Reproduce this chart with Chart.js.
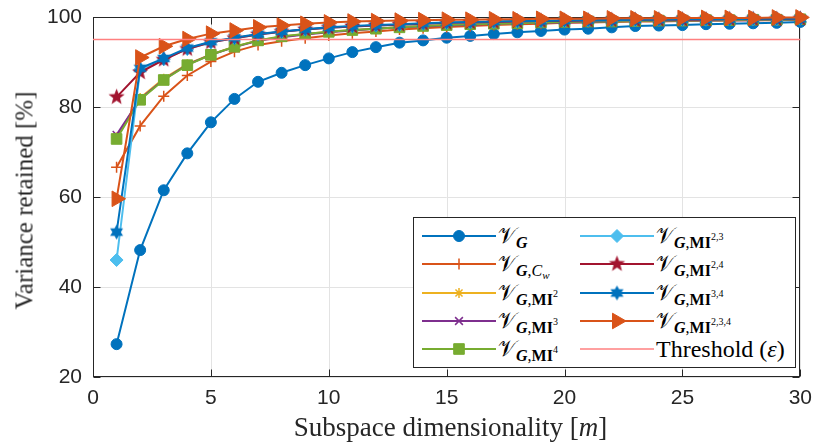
<!DOCTYPE html>
<html>
<head>
<meta charset="utf-8">
<script src="https://cdn.jsdelivr.net/npm/chart.js@4.4.1/dist/chart.umd.min.js"></script>
<style>
  body { margin: 0; background: #fff; }
  #wrap { position: relative; width: 821px; height: 442px; overflow: hidden; }
  #legend { position: absolute; left: 413px; top: 217px; width: 381px; height: 149px;
            border: 1px solid #262626; background: #fff; }
  .item { position: absolute; height: 20px; width: 220px; }
  .item canvas { position: absolute; left: 0; top: 0; }
  .lab { position: absolute; left: 76px; top: 0; white-space: nowrap; color: #000;
         font-family: "Liberation Serif", "DejaVu Serif", serif; font-size: 22px; line-height: 20px; }
  .cal { font-size: 22px; }
  .sb { font-size: 16px; position: relative; top: 5px; }
  .sp { font-size: 10px; position: relative; top: -8px; }
  .cw { font-size: 11px; position: relative; top: 3px; }
  .th { font-size: 24px; }
  .axt { position: absolute; white-space: nowrap; text-align: center; color: #262626;
         font-family: "Liberation Serif", "Times New Roman", serif; }
  #xtitle { left: 150px; width: 601px; top: 414px; font-size: 27px; line-height: 27px; }
  #ytitle { left: -126px; width: 300px; top: 188px; font-size: 25px; line-height: 25px;
            transform: rotate(-90deg); }
</style>
</head>
<body>
<div id="wrap">
  <canvas id="chart" width="821" height="442"></canvas>
  <div id="xtitle" class="axt">Subspace dimensionality [<i>m</i>]</div>
  <div id="ytitle" class="axt">Variance retained [%]</div>
  <div id="legend"></div>
</div>
<script>
// subspace dimension m
var dims = [1, 2, 3, 4, 5, 6, 7, 8, 9, 10, 11, 12, 13, 14, 15,
            16, 17, 18, 19, 20, 21, 22, 23, 24, 25, 26, 27, 28, 29, 30];

// variance retained [%] per variant
var vG = [27.3, 48.2, 61.5, 69.7, 76.6, 81.8, 85.6, 87.6, 89.3, 90.8, 92.2, 93.3, 94.3, 94.8, 95.4,
          95.8, 96.2, 96.6, 96.9, 97.2, 97.4, 97.7, 98.0, 98.1, 98.2, 98.4, 98.5, 98.6, 98.7, 98.9];
var vCw = [66.6, 75.8, 82.4, 87.0, 90.1, 92.3, 93.8, 94.6, 95.3, 95.9, 96.4, 96.8, 97.2, 97.5, 97.8,
           98.0, 98.2, 98.4, 98.5, 98.7, 98.8, 98.9, 99.0, 99.0, 99.1, 99.2, 99.2, 99.3, 99.3, 99.4];
var vMI2 = [73.3, 82.0, 86.3, 89.5, 91.7, 93.4, 94.8, 95.6, 96.2, 96.7, 97.1, 97.4, 97.7, 98.0, 98.2,
            98.4, 98.5, 98.6, 98.8, 98.9, 99.0, 99.0, 99.1, 99.2, 99.2, 99.3, 99.3, 99.4, 99.4, 99.5];
var vMI3 = [73.8, 81.8, 86.1, 89.4, 91.6, 93.3, 94.7, 95.5, 96.1, 96.6, 97.0, 97.4, 97.7, 97.9, 98.1,
            98.3, 98.5, 98.6, 98.7, 98.8, 98.9, 99.0, 99.1, 99.1, 99.2, 99.2, 99.3, 99.3, 99.4, 99.4];
var vMI4 = [72.9, 81.6, 86.0, 89.3, 91.6, 93.4, 94.8, 95.7, 96.2, 96.7, 97.1, 97.4, 97.7, 98.0, 98.2,
            98.4, 98.5, 98.6, 98.8, 98.9, 99.0, 99.0, 99.1, 99.2, 99.2, 99.3, 99.3, 99.4, 99.4, 99.5];
var vMI23 = [46.0, 88.3, 90.6, 92.9, 94.4, 95.3, 96.1, 96.7, 97.2, 97.6, 97.9, 98.1, 98.3, 98.5, 98.7,
             98.8, 98.9, 99.0, 99.1, 99.1, 99.2, 99.3, 99.3, 99.4, 99.4, 99.4, 99.5, 99.5, 99.5, 99.6];
var vMI24 = [82.2, 87.7, 90.5, 92.9, 94.4, 95.3, 96.1, 96.7, 97.2, 97.6, 97.9, 98.1, 98.3, 98.5, 98.7,
             98.8, 98.9, 99.0, 99.1, 99.1, 99.2, 99.3, 99.3, 99.4, 99.4, 99.4, 99.5, 99.5, 99.5, 99.6];
var vMI34 = [52.2, 88.6, 90.8, 93.1, 94.5, 95.4, 96.2, 96.8, 97.3, 97.7, 98.0, 98.2, 98.4, 98.6, 98.8,
             98.9, 99.0, 99.1, 99.1, 99.2, 99.3, 99.3, 99.4, 99.4, 99.5, 99.5, 99.5, 99.6, 99.6, 99.6];
var vMI234 = [59.6, 91.0, 93.5, 95.1, 96.3, 97.0, 97.7, 98.1, 98.5, 98.8, 99.0, 99.1, 99.2, 99.3, 99.4,
              99.4, 99.5, 99.5, 99.6, 99.6, 99.6, 99.7, 99.7, 99.7, 99.8, 99.8, 99.8, 99.8, 99.9, 99.9];

var threshold = 95;
var xTicks = [0, 30, 5];     // min, max, step
var yTicks = [20, 100, 20];

var names = ['V_G', 'V_G,Cw', 'V_G,MI2', 'V_G,MI3', 'V_G,MI4',
             'V_G,MI23', 'V_G,MI24', 'V_G,MI34', 'V_G,MI234', 'Threshold'];

var V = '<span class="cal">\u{1D4B1}</span>';
var G = '<b><i>G</i></b>';
function mi(p) { return '<span class="sb">' + G + ',<b>MI</b><span class="sp">' + p + '</span></span>'; }
var legendHtml = [
  V + '<span class="sb">' + G + '</span>',
  V + '<span class="sb">' + G + ',<i>C</i><i class="cw">w</i></span>',
  V + mi('2'),
  V + mi('3'),
  V + mi('4'),
  V + mi('2,3'),
  V + mi('2,4'),
  V + mi('3,4'),
  V + mi('2,3,4'),
  '<span class="th">Threshold (<i>\u03B5</i>)</span>'
];

// filled star markers (pentagram / hexagram) as small canvases
function starMarker(n, outer, inner, color) {
  var s = Math.ceil(outer * 2 + 2);
  var c = document.createElement('canvas');
  c.width = s; c.height = s;
  var g = c.getContext('2d');
  g.fillStyle = color;
  g.beginPath();
  for (var i = 0; i < n * 2; i++) {
    var r = i % 2 === 0 ? outer : inner;
    var a = -Math.PI / 2 + i * Math.PI / n;
    var px = s / 2 + r * Math.cos(a), py = s / 2 + r * Math.sin(a);
    if (i === 0) g.moveTo(px, py); else g.lineTo(px, py);
  }
  g.closePath();
  g.fill();
  return c;
}

var blue = '#0072BD', orange = '#D95319', yellow = '#EDB120', purple = '#7E2F8E',
    green = '#77AC30', cyan = '#4DBEEE', maroon = '#A2142F';

function series(values, color, style, radius, bw, rot) {
  return {
    data: dims.map(function (m, i) { return { x: m, y: values[i] }; }),
    borderColor: color,
    backgroundColor: color,
    pointBackgroundColor: color,
    pointBorderColor: color,
    borderWidth: 2,
    pointStyle: style,
    pointRadius: radius,
    pointBorderWidth: bw,
    pointRotation: rot || 0,
    clip: false
  };
}

var datasets = [
  series(vG, blue, 'circle', 5.5, 1),
  series(vCw, orange, 'cross', 5.5, 1.5),
  series(vMI2, yellow, 'star', 5, 1.5),
  series(vMI3, purple, 'crossRot', 5.5, 1.5),
  series(vMI4, green, 'rect', 7.5, 1),
  series(vMI23, cyan, 'rectRot', 6.5, 1),
  series(vMI24, maroon, starMarker(5, 8.5, 3.6, maroon), 8, 0),
  series(vMI34, blue, starMarker(6, 7.5, 4.2, blue), 7, 0),
  series(vMI234, orange, 'triangle', 9, 1, 90),
  {
    data: [{ x: xTicks[0], y: threshold }, { x: xTicks[1], y: threshold }],
    borderColor: '#ff8080',
    borderWidth: 1.5,
    pointRadius: 0,
    clip: false
  }
];
datasets.forEach(function (d, i) { d.label = names[i]; d.order = -i; });

var axisColor = '#262626';
var gridColor = '#e3e3e3';

// MATLAB style grid and box with inward ticks, placed from the scales
var boxAxes = {
  id: 'boxAxes',
  beforeDatasetsDraw: function (chart) {
    var ctx = chart.ctx, x = chart.scales.x, y = chart.scales.y;
    var l = Math.round(x.getPixelForValue(xTicks[0])) + 0.5,
        r = Math.round(x.getPixelForValue(xTicks[1])) - 0.5,
        t = Math.round(y.getPixelForValue(yTicks[1])) + 0.5,
        b = Math.round(y.getPixelForValue(yTicks[0])) - 0.5;
    ctx.save();
    ctx.lineWidth = 1;
    ctx.strokeStyle = gridColor;
    ctx.beginPath();
    x.ticks.forEach(function (tk) {
      var px = Math.round(x.getPixelForValue(tk.value)) + 0.5;
      ctx.moveTo(px, t); ctx.lineTo(px, b);
    });
    y.ticks.forEach(function (tk) {
      var py = Math.round(y.getPixelForValue(tk.value)) + 0.5;
      ctx.moveTo(l, py); ctx.lineTo(r, py);
    });
    ctx.stroke();

    ctx.strokeStyle = axisColor;
    ctx.strokeRect(l, t, r - l, b - t);
    ctx.beginPath();
    x.ticks.forEach(function (tk) {
      var px = Math.round(x.getPixelForValue(tk.value)) + 0.5;
      ctx.moveTo(px, b); ctx.lineTo(px, b - 7);
      ctx.moveTo(px, t); ctx.lineTo(px, t + 7);
    });
    y.ticks.forEach(function (tk) {
      var py = Math.round(y.getPixelForValue(tk.value)) + 0.5;
      ctx.moveTo(l, py); ctx.lineTo(l + 7, py);
      ctx.moveTo(r, py); ctx.lineTo(r - 7, py);
    });
    ctx.stroke();
    ctx.restore();
  }
};

var tickFont = { family: '"Liberation Sans", Arial, sans-serif', size: 21 };

var chart = new Chart(document.getElementById('chart'), {
  type: 'line',
  data: { datasets: datasets },
  options: {
    responsive: false,
    animation: false,
    events: [],
    layout: { padding: { left: 0, top: 17, right: 13, bottom: 0 } },
    plugins: { legend: { display: false }, tooltip: { enabled: false } },
    scales: {
      x: {
        type: 'linear', min: xTicks[0], max: xTicks[1],
        ticks: { stepSize: xTicks[2], font: tickFont, color: axisColor, padding: 9 },
        grid: { display: false, drawTicks: false },
        border: { display: false },
        afterFit: function (s) { s.height = 65; }
      },
      y: {
        type: 'linear', min: yTicks[0], max: yTicks[1],
        ticks: { stepSize: yTicks[2], font: tickFont, color: axisColor, padding: 11 },
        grid: { display: false, drawTicks: false },
        border: { display: false },
        afterFit: function (s) { s.width = 93; s.paddingTop = 0; s.paddingBottom = 0; }
      }
    }
  },
  plugins: [boxAxes]
});

// legend: two columns of five entries
var legend = document.getElementById('legend');
var colLeft = [8, 166], rowTop = 8, rowStep = 28.3;
datasets.forEach(function (ds, i) {
  var col = i < 5 ? 0 : 1, row = i % 5;
  var item = document.createElement('div');
  item.className = 'item';
  item.style.left = colLeft[col] + 'px';
  item.style.top = (rowTop + row * rowStep) + 'px';
  var cv = document.createElement('canvas');
  cv.width = 74; cv.height = 20;
  var g = cv.getContext('2d');
  g.strokeStyle = ds.borderColor;
  g.lineWidth = ds.borderWidth;
  g.beginPath(); g.moveTo(0, 10); g.lineTo(74, 10); g.stroke();
  if (ds.pointRadius > 0) {
    g.fillStyle = ds.pointBackgroundColor;
    g.lineWidth = ds.pointBorderWidth;
    Chart.helpers.drawPoint(g, {
      pointStyle: ds.pointStyle, radius: ds.pointRadius,
      rotation: ds.pointRotation, borderWidth: ds.pointBorderWidth
    }, 37, 10);
  }
  item.appendChild(cv);
  var lab = document.createElement('div');
  lab.className = 'lab';
  lab.innerHTML = legendHtml[i];
  item.appendChild(lab);
  legend.appendChild(item);
});
</script>
</body>
</html>
